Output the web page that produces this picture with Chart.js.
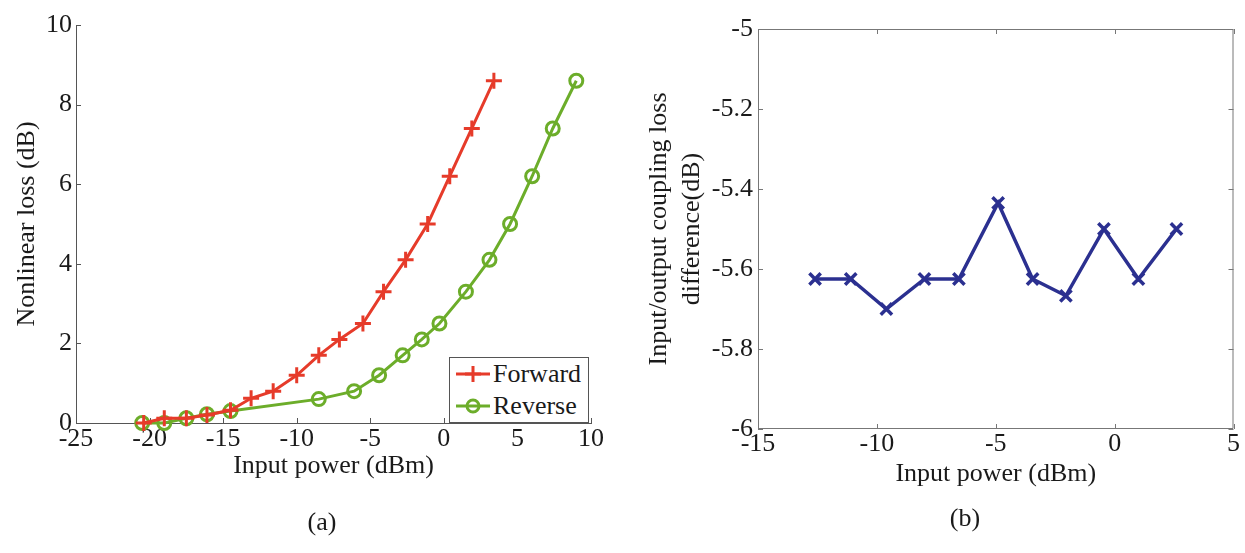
<!DOCTYPE html>
<html lang="en">
<head>
    <meta charset="UTF-8">
    <title>Nonlinear loss / coupling loss difference</title>
    <script src="https://cdn.jsdelivr.net/npm/chart.js"></script>
    <style>
        body { margin: 0; background: #fff; }
        #page { position: relative; width: 1245px; height: 553px; font-family: "Liberation Serif", serif; color: #1a1a1a; }
        #wrapA { position: absolute; left: 0; top: 0; }
        #wrapB { position: absolute; left: 620px; top: 0; }
        .caption { position: absolute; font-size: 26px; transform: translate(-50%, -50%); }
        #legendA { position: absolute; left: 449px; top: 357px; width: 138px; height: 64px; border: 1px solid #555; background: #fff; font-size: 26px; }
        #legendA div { height: 32px; line-height: 32px; display: flex; align-items: center; }
        #legendA svg { margin-left: 6px; margin-right: 3px; }
    </style>
</head>
<body>
<div id="page">
    <div id="wrapA"><canvas id="chartA" width="620" height="553"></canvas></div>
    <div id="wrapB"><canvas id="chartB" width="625" height="553"></canvas></div>
    <div id="legendA">
        <div><svg width="34" height="20"><line x1="0" y1="10" x2="34" y2="10" stroke="#e63b2a" stroke-width="3"/><path d="M17 2 V18 M9 10 H25" stroke="#e63b2a" stroke-width="3"/></svg>Forward</div>
        <div><svg width="34" height="20"><line x1="0" y1="10" x2="34" y2="10" stroke="#6cad2a" stroke-width="3"/><circle cx="17" cy="10" r="6" fill="none" stroke="#6cad2a" stroke-width="3"/></svg>Reverse</div>
    </div>
    <div class="caption" style="left:322px; top:522px;">(a)</div>
    <div class="caption" style="left:965px; top:518px;">(b)</div>
</div>

<script>
    // (a) nonlinear loss vs input power
    const fwdX = [-20.4, -19.0, -17.5, -16.1, -14.5, -13.1, -11.6, -10.0, -8.5, -7.1, -5.5, -4.1, -2.6, -1.1, 0.4, 1.9, 3.4];
    const fwdY = [0, 0.12, 0.12, 0.2, 0.32, 0.62, 0.8, 1.2, 1.7, 2.1, 2.5, 3.3, 4.1, 5.0, 6.2, 7.4, 8.6];
    const revX = [-20.5, -19.0, -17.5, -16.1, -14.5, -8.5, -6.1, -4.4, -2.8, -1.5, -0.3, 1.5, 3.1, 4.5, 6.0, 7.4, 9.0];
    const revY = [0, 0, 0.12, 0.22, 0.3, 0.6, 0.8, 1.2, 1.7, 2.1, 2.5, 3.3, 4.1, 5.0, 6.2, 7.4, 8.6];
    const ticksAX = [-25, -20, -15, -10, -5, 0, 5, 10];
    const ticksAY = [0, 2, 4, 6, 8, 10];

    // (b) input/output coupling loss difference
    const diffX = [-12.6, -11.1, -9.6, -8.0, -6.55, -4.9, -3.45, -2.05, -0.45, 1.0, 2.6];
    const diffY = [-5.625, -5.625, -5.7, -5.625, -5.625, -5.435, -5.625, -5.667, -5.5, -5.625, -5.5];
    const ticksBX = [-15, -10, -5, 0, 5];
    const ticksBY = [-6, -5.8, -5.6, -5.4, -5.2, -5];

    const serif = 'Liberation Serif';
    const ink = '#1a1a1a';

    function pts(xs, ys) {
        return xs.map((x, i) => ({ x: x, y: ys[i] }));
    }
    function fixTicks(list) {
        return s => { s.ticks = list.map(v => ({ value: v })); };
    }
    function fmt(v) {
        return String(Math.round(v * 10) / 10);
    }

    // MATLAB style ticks pointing into the plot, optional full box
    const inwardTicks = {
        id: 'inwardTicks',
        beforeDatasetsDraw(chart, args, opts) {
            const { ctx, chartArea: a, scales } = chart;
            const L = 5;
            ctx.save();
            ctx.strokeStyle = opts.color || '#555';
            ctx.lineWidth = 1;
            ctx.beginPath();
            if (opts.box) {
                ctx.rect(a.left + 0.5, a.top + 0.5, a.right - a.left - 1, a.bottom - a.top - 1);
            }
            scales.x.ticks.forEach(t => {
                const px = Math.round(scales.x.getPixelForValue(t.value)) + 0.5;
                ctx.moveTo(px, a.bottom); ctx.lineTo(px, a.bottom - L);
                if (opts.box) { ctx.moveTo(px, a.top); ctx.lineTo(px, a.top + L); }
            });
            scales.y.ticks.forEach(t => {
                const py = Math.round(scales.y.getPixelForValue(t.value)) + 0.5;
                ctx.moveTo(a.left, py); ctx.lineTo(a.left + L, py);
                if (opts.box) { ctx.moveTo(a.right, py); ctx.lineTo(a.right - L, py); }
            });
            ctx.stroke();
            ctx.restore();
        }
    };

    const noGrid = { display: false, drawTicks: false };

    new Chart(document.getElementById('chartA'), {
        type: 'scatter',
        data: {
            datasets: [{
                label: 'Forward',
                data: pts(fwdX, fwdY),
                showLine: true,
                borderColor: '#e63b2a',
                backgroundColor: '#e63b2a',
                borderWidth: 3,
                pointStyle: 'cross',
                pointRadius: 8,
                pointBorderWidth: 3,
                clip: false
            }, {
                label: 'Reverse',
                data: pts(revX, revY),
                showLine: true,
                borderColor: '#6cad2a',
                backgroundColor: 'transparent',
                borderWidth: 3,
                pointStyle: 'circle',
                pointRadius: 6.5,
                pointBorderWidth: 3,
                clip: false
            }]
        },
        options: {
            responsive: false,
            animation: false,
            layout: { padding: { top: 25, right: 29, bottom: 0, left: 0 } },
            plugins: {
                legend: { display: false },
                tooltip: { enabled: false },
                inwardTicks: { box: false, color: '#555' }
            },
            scales: {
                x: {
                    type: 'linear', min: -25, max: 10,
                    afterBuildTicks: fixTicks(ticksAX),
                    afterFit: s => { s.height = 130; },
                    grid: noGrid,
                    border: { display: true, color: '#555', width: 1 },
                    ticks: { font: { family: serif, size: 26 }, color: ink, padding: 1, maxRotation: 0, callback: fmt },
                    title: { display: true, text: 'Input power (dBm)', font: { family: serif, size: 26 }, color: ink, padding: { top: 0, bottom: 71 } }
                },
                y: {
                    min: 0, max: 10,
                    afterBuildTicks: fixTicks(ticksAY),
                    afterFit: s => { s.width = 76; },
                    grid: noGrid,
                    border: { display: true, color: '#555', width: 1 },
                    ticks: { font: { family: serif, size: 26 }, color: ink, padding: 4, callback: fmt },
                    title: { display: true, text: 'Nonlinear loss (dB)', font: { family: serif, size: 26 }, color: ink, padding: { top: 12, bottom: 0 } }
                }
            }
        },
        plugins: [inwardTicks]
    });

    new Chart(document.getElementById('chartB'), {
        type: 'scatter',
        data: {
            datasets: [{
                label: 'difference',
                data: pts(diffX, diffY),
                showLine: true,
                borderColor: '#2b3090',
                backgroundColor: '#2b3090',
                borderWidth: 3.5,
                pointStyle: 'crossRot',
                pointRadius: 8,
                pointBorderWidth: 3.5,
                clip: false
            }]
        },
        options: {
            responsive: false,
            animation: false,
            layout: { padding: { top: 29, right: 9, bottom: 0, left: 0 } },
            plugins: {
                legend: { display: false },
                tooltip: { enabled: false },
                inwardTicks: { box: true, color: '#777' }
            },
            scales: {
                x: {
                    type: 'linear', min: -15, max: 5,
                    afterBuildTicks: fixTicks(ticksBX),
                    afterFit: s => { s.height = 124; },
                    grid: noGrid,
                    border: { display: false },
                    ticks: { font: { family: serif, size: 26 }, color: ink, padding: 0, maxRotation: 0, callback: fmt },
                    title: { display: true, text: 'Input power (dBm)', font: { family: serif, size: 26 }, color: ink, padding: { top: 0, bottom: 63 } }
                },
                y: {
                    min: -6, max: -5,
                    afterBuildTicks: fixTicks(ticksBY),
                    afterFit: s => { s.width = 138; },
                    grid: noGrid,
                    border: { display: false },
                    ticks: { font: { family: serif, size: 26 }, color: ink, padding: 5, callback: fmt },
                    title: { display: true, text: ['Input/output coupling loss', 'difference(dB)'], font: { family: serif, size: 26, lineHeight: 1.27 }, color: ink, padding: { top: 23, bottom: 0 } }
                }
            }
        },
        plugins: [inwardTicks]
    });
</script>
</body>
</html>
